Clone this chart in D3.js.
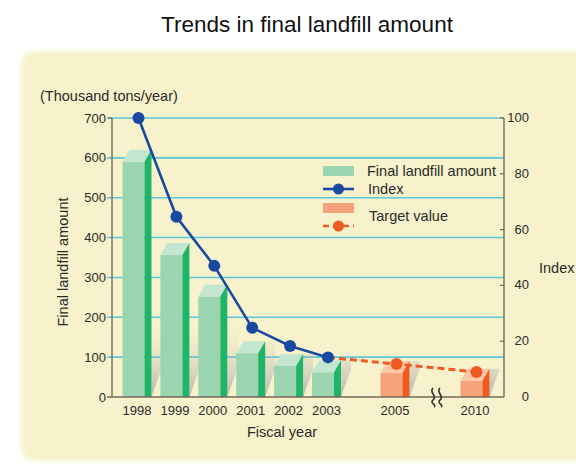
<!DOCTYPE html>
<html>
<head>
<meta charset="utf-8">
<script src="https://cdnjs.cloudflare.com/ajax/libs/d3/7.8.5/d3.min.js"></script>
<style>
  html, body { margin: 0; padding: 0; background: #ffffff; }
  svg { display: block; }
  text { font-family: "Liberation Sans", Arial, Helvetica, sans-serif; fill: #2a2a2a; }
</style>
</head>
<body>
<div id="chart"></div>
<script>
// ---------------- data ----------------
const actualYears = [1998, 1999, 2000, 2001, 2002, 2003];
const actualAmount = [590, 356, 252, 110, 78, 62];     // thousand tons/year
const actualIndex = [100, 64.6, 47, 24.8, 18.3, 14.2];
const targetYears = [2005, 2010];
const targetAmount = [60, 41];
const targetIndex = [11.8, 9.0];
const yearTicks = [1998, 1999, 2000, 2001, 2002, 2003, 2005, 2010];
const amountTicks = [0, 100, 200, 300, 400, 500, 600, 700];
const indexTicks = [0, 20, 40, 60, 80, 100];
const legendLabels = ["Final landfill amount", "Index", "Target value"];

// ---------------- layout ----------------
const W = 576, H = 464;
const svg = d3.select("#chart").append("svg").attr("width", W).attr("height", H);
const defs = svg.append("defs");

const blur = defs.append("filter").attr("id", "soft").attr("x", "-5%").attr("y", "-5%").attr("width", "110%").attr("height", "110%");
blur.append("feGaussianBlur").attr("stdDeviation", 2.2);

const y0 = 397, yTop = 118;
const xLeft = 112, xRight = 504;

// broken x axis: piecewise linear scale, year -> bar centre
const x = d3.scaleLinear().domain([1998, 2003, 2005, 2010]).range([137, 326.5, 395, 475]);
const y = d3.scaleLinear().domain([0, 700]).range([y0, yTop]);
const yi = d3.scaleLinear().domain([0, 100]).range([y0, yTop]);

const frontW = 22, dx = 7, dy = 12;

// shadow gradient
const sg = defs.append("linearGradient").attr("id", "shadow")
  .attr("gradientUnits", "userSpaceOnUse").attr("x1", 0).attr("x2", 0).attr("y1", y0).attr("y2", y0 - 70);
sg.append("stop").attr("offset", 0).attr("stop-color", "#8f90a0").attr("stop-opacity", 0.6);
sg.append("stop").attr("offset", 1).attr("stop-color", "#d0cdbf").attr("stop-opacity", 0);

// title
svg.append("text").attr("x", 307).attr("y", 32).attr("text-anchor", "middle")
  .style("font-size", "22.5px").style("fill", "#111").text("Trends in final landfill amount");

// panel
svg.append("rect").attr("x", 21).attr("y", 51).attr("width", 620).attr("height", 410)
  .attr("rx", 14).attr("fill", "#f7f2cc").attr("filter", "url(#soft)");

// gridlines
svg.append("g").selectAll("line").data(amountTicks.filter(d => d > 0)).join("line")
  .attr("x1", xLeft - 5).attr("x2", xRight).attr("y1", d => y(d)).attr("y2", d => y(d))
  .attr("stroke", "#5ec6dc").attr("stroke-width", 1.6);

// left tick labels
svg.append("g").selectAll("text").data(amountTicks).join("text")
  .attr("x", 106).attr("y", d => y(d) + 4.5).attr("text-anchor", "end")
  .style("font-size", "13px").text(d => d);

// right axis
svg.append("line").attr("x1", xRight).attr("x2", xRight).attr("y1", yTop).attr("y2", y0)
  .attr("stroke", "#74695b").attr("stroke-width", 1.4);
svg.append("g").selectAll("line").data(indexTicks.filter(d => d > 0)).join("line")
  .attr("x1", xRight - 4).attr("x2", xRight).attr("y1", d => yi(d)).attr("y2", d => yi(d))
  .attr("stroke", "#74695b").attr("stroke-width", 1.2);
svg.append("g").selectAll("text").data(indexTicks).join("text")
  .attr("x", 529).attr("y", d => yi(d) + 4).attr("text-anchor", "end")
  .style("font-size", "13px").text(d => d);

// bars
function drawBars(years, values, cFront, cTop, cSide) {
  const g = svg.append("g");
  years.forEach((yr, i) => {
    const xf = x(yr) - (frontW + dx) / 2;
    const xr = xf + frontW;
    const yt = y(values[i]);
    // shadow
    g.append("polygon")
      .attr("points", [[xr + dx, y0], [xr + dx, yt - dy], [xr + dx + 10, yt - dy], [xr + dx + 10, y0 - 28]].join(" "))
      .attr("fill", "url(#shadow)");
    g.append("rect").attr("x", xf).attr("y", yt).attr("width", frontW).attr("height", y0 - yt).attr("fill", cFront);
    g.append("polygon")
      .attr("points", [[xf, yt], [xf + dx, yt - dy], [xr + dx, yt - dy], [xr, yt]].join(" "))
      .attr("fill", cTop);
    g.append("polygon")
      .attr("points", [[xr, yt], [xr + dx, yt - dy], [xr + dx, y0], [xr, y0]].join(" "))
      .attr("fill", cSide);
  });
}
drawBars(actualYears, actualAmount, "#9bd4b0", "#c4e6d0", "#20b468");
drawBars(targetYears, targetAmount, "#f6a27b", "#fbc9a9", "#ef5a1f");

// left axis & x axis lines
svg.append("line").attr("x1", xLeft).attr("x2", xLeft).attr("y1", yTop).attr("y2", y0)
  .attr("stroke", "#74695b").attr("stroke-width", 1.4);
svg.append("line").attr("x1", xLeft - 4).attr("x2", xLeft).attr("y1", yTop).attr("y2", yTop)
  .attr("stroke", "#74695b").attr("stroke-width", 1.2);
svg.append("line").attr("x1", xLeft - 5).attr("x2", xRight).attr("y1", y0).attr("y2", y0)
  .attr("stroke", "#74695b").attr("stroke-width", 1.6);

// break symbol between 2005 and 2010
const xb = x(2007.6);
const brk = svg.append("g").attr("fill", "none").attr("stroke", "#333").attr("stroke-width", 1.6);
[-3.5, 3.5].forEach(off => {
  const cx = xb + off;
  brk.append("path").attr("d",
    `M${cx},${y0 - 9} C${cx - 5},${y0 - 5} ${cx + 5},${y0 - 1} ${cx},${y0 + 3} C${cx - 4},${y0 + 6} ${cx + 4},${y0 + 8} ${cx + 1},${y0 + 10}`);
});

// year labels
svg.append("g").selectAll("text").data(yearTicks).join("text")
  .attr("x", d => x(d)).attr("y", 415).attr("text-anchor", "middle")
  .style("font-size", "13px").text(d => d);

// index line
const line = d3.line().x(d => x(d[0]) + 1.5).y(d => yi(d[1]));
const idx = actualYears.map((d, i) => [d, actualIndex[i]]);
const tgt = [[2003, actualIndex[5]]].concat(targetYears.map((d, i) => [d, targetIndex[i]]));
svg.append("path").datum(tgt).attr("d", line).attr("fill", "none")
  .attr("stroke", "#ef5a23").attr("stroke-width", 3).attr("stroke-dasharray", "7,4");
svg.append("g").selectAll("circle").data(tgt.slice(1)).join("circle")
  .attr("cx", d => x(d[0]) + 1.5).attr("cy", d => yi(d[1])).attr("r", 6).attr("fill", "#ef5a23");
svg.append("path").datum(idx).attr("d", line).attr("fill", "none")
  .attr("stroke", "#1a4aa0").attr("stroke-width", 2.6);
svg.append("g").selectAll("circle").data(idx).join("circle")
  .attr("cx", d => x(d[0]) + 1.5).attr("cy", d => yi(d[1])).attr("r", 6).attr("fill", "#1a4aa0");

// legend
const lg = svg.append("g");
lg.append("rect").attr("x", 323).attr("y", 166).attr("width", 31).attr("height", 10).attr("fill", "#9bd4b0");
lg.append("line").attr("x1", 323).attr("x2", 354).attr("y1", 189).attr("y2", 189).attr("stroke", "#1a4aa0").attr("stroke-width", 2.6);
lg.append("circle").attr("cx", 338.5).attr("cy", 189).attr("r", 5.5).attr("fill", "#1a4aa0");
lg.append("rect").attr("x", 323).attr("y", 203).attr("width", 31).attr("height", 10).attr("fill", "#f6a27b");
lg.append("line").attr("x1", 323).attr("x2", 354).attr("y1", 226).attr("y2", 226).attr("stroke", "#ef5a23").attr("stroke-width", 2.6).attr("stroke-dasharray", "6,4");
lg.append("circle").attr("cx", 338.5).attr("cy", 226).attr("r", 5.5).attr("fill", "#ef5a23");
lg.append("text").attr("x", 367).attr("y", 176).style("font-size", "14.5px").text(legendLabels[0]);
lg.append("text").attr("x", 368).attr("y", 194).style("font-size", "14.5px").text(legendLabels[1]);
lg.append("text").attr("x", 369).attr("y", 221).style("font-size", "14.5px").text(legendLabels[2]);

// axis titles
svg.append("text").attr("x", 40).attr("y", 101).style("font-size", "14.5px").text("(Thousand tons/year)");
svg.append("text").attr("transform", "translate(68,262) rotate(-90)").attr("text-anchor", "middle")
  .style("font-size", "14.5px").text("Final landfill amount");
svg.append("text").attr("x", 282).attr("y", 437).attr("text-anchor", "middle")
  .style("font-size", "14.5px").text("Fiscal year");
svg.append("text").attr("x", 539).attr("y", 273).style("font-size", "14.5px").text("Index");
</script>
</body>
</html>
